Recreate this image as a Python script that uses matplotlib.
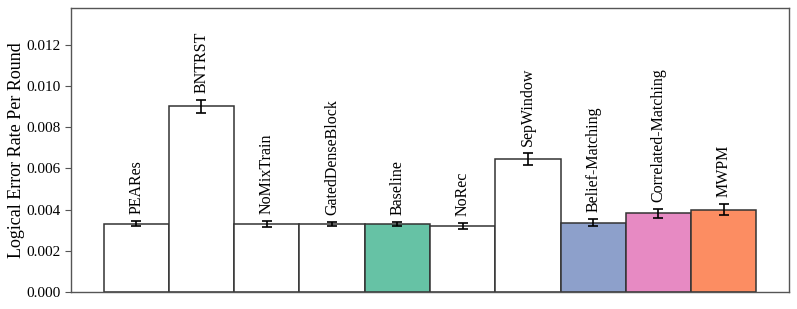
import matplotlib
matplotlib.use("Agg")
import matplotlib.pyplot as plt
import numpy as np

plt.rcParams['font.family'] = ['Liberation Serif', 'DejaVu Serif']

categories = ["PEARes", "BNTRST", "NoMixTrain", "GatedDenseBlock", "Baseline",
              "NoRec", "SepWindow", "Belief-Matching", "Correlated-Matching", "MWPM"]
values = [0.00332, 0.00902, 0.00330, 0.00330, 0.00331,
          0.00322, 0.00646, 0.00337, 0.00381, 0.00400]
errors = [0.00014, 0.00032, 0.00015, 0.00008, 0.00010,
          0.00015, 0.00028, 0.00019, 0.00020, 0.00026]
colors = ["white", "white", "white", "white", "#66c2a5",
          "white", "white", "#8da0cb", "#e78ac3", "#fc8d62"]
yticks = [0.000, 0.002, 0.004, 0.006, 0.008, 0.010, 0.012]

fig = plt.figure(figsize=(7.97, 3.09), dpi=100)
ax = fig.add_axes([0.089, 0.056, 0.901, 0.917])
x = np.arange(len(categories))
ax.bar(x, values, width=1.0, color=colors, edgecolor="#333333", linewidth=1.1)
ax.errorbar(x, values, yerr=errors, fmt="none", ecolor="black", capsize=3.3,
            elinewidth=1.2, capthick=1.2)
for xi, v, e, lab in zip(x, values, errors, categories):
    ax.annotate(lab, xy=(xi, v + e), xytext=(0, 5), textcoords="offset points",
                rotation=90, ha="center", va="bottom", fontsize=11.5)

ax.set_xlim(-1, 10)
ax.set_ylim(0, 0.0138)
ax.set_xticks([])
ax.set_yticks(yticks)
ax.set_yticklabels([f"{t:.3f}" for t in yticks], fontsize=11)
ax.set_ylabel("Logical Error Rate Per Round", fontsize=13, labelpad=1)
for s in ax.spines.values():
    s.set_color("#555555")
    s.set_linewidth(1.0)
ax.tick_params(axis="y", color="#555555", length=4)
fig.savefig("out.png", dpi=100)
